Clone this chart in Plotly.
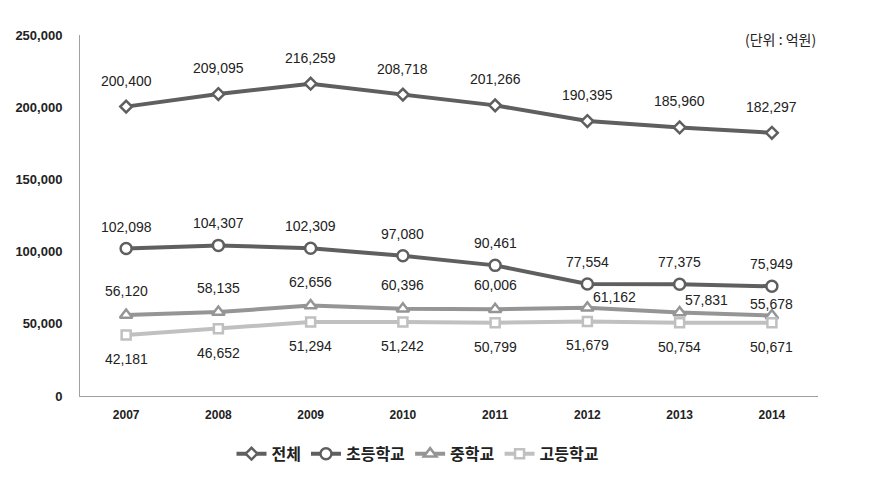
import plotly.graph_objects as go

years = ["2007", "2008", "2009", "2010", "2011", "2012", "2013", "2014"]
total = [200400, 209095, 216259, 208718, 201266, 190395, 185960, 182297]
elementary = [102098, 104307, 102309, 97080, 90461, 77554, 77375, 75949]
middle = [56120, 58135, 62656, 60396, 60006, 61162, 57831, 55678]
high = [42181, 46652, 51294, 51242, 50799, 51679, 50754, 50671]
y_ticks = [0, 50000, 100000, 150000, 200000, 250000]

FONT = "Liberation Sans, Noto Sans CJK KR, sans-serif"
KFONT = "Noto Sans CJK KR, sans-serif"

series = [
    ("전체", total, "#5f5f5f", "diamond", 9),
    ("초등학교", elementary, "#5f5f5f", "circle", 11),
    ("중학교", middle, "#959595", "triangle-up", 11),
    ("고등학교", high, "#c0c0c0", "square", 9),
]

fig = go.Figure()
for name, vals, color, sym, size in series:
    fig.add_trace(go.Scatter(
        x=years, y=vals, name=name, mode="lines+markers",
        line=dict(color=color, width=4),
        marker=dict(symbol=sym, size=size, color="white",
                    line=dict(color=color, width=2.5)),
    ))

# label offsets (styling): per series list of (xshift, yshift)
offsets = {
    0: [(0, 26)] * 8,
    1: [(0, 22)] * 8,
    2: [(0, 24)] * 5 + [(27, 11), (27, 12), (0, 12)],
    3: [(0, -24)] * 8,
}
for i, (name, vals, color, sym, size) in enumerate(series):
    for j, v in enumerate(vals):
        xs, ys = offsets[i][j]
        fig.add_annotation(x=j, y=v, xref="x", yref="y", text=f"{v:,}",
                           showarrow=False, xshift=xs, yshift=ys,
                           font=dict(family=FONT, size=14, color="#222222"))

fig.add_annotation(xref="paper", yref="paper", x=1.0, y=0.99,
                   xanchor="right", yanchor="middle", showarrow=False,
                   text="(단위 : 억원)",
                   font=dict(family=KFONT, size=14, color="#222222"))

fig.update_layout(
    width=881, height=486,
    margin=dict(l=80, r=63, t=35, b=90),
    plot_bgcolor="white", paper_bgcolor="white",
    showlegend=True,
    legend=dict(orientation="h", xanchor="center", x=0.458,
                yanchor="middle", y=-0.16,
                font=dict(family=KFONT, size=16, color="#222222", weight="bold"),
                itemwidth=30, tracegroupgap=0),
    xaxis=dict(type="category", range=[-0.5, len(years) - 0.5],
               showgrid=False, showline=True,
               linecolor="#a0a0a0", linewidth=1, ticks="",
               tickfont=dict(family=FONT, size=12, color="#222222", weight="bold"),
               ticklabelstandoff=8),
    yaxis=dict(range=[0, 250000], tickvals=y_ticks,
               ticktext=[f"{t:,}" for t in y_ticks],
               showgrid=False, showline=True, linecolor="#a0a0a0",
               linewidth=1, ticks="", zeroline=False,
               tickfont=dict(family=FONT, size=13, color="#222222", weight="bold"),
               ticklabelstandoff=14),
)

fig.write_html("out.html")
